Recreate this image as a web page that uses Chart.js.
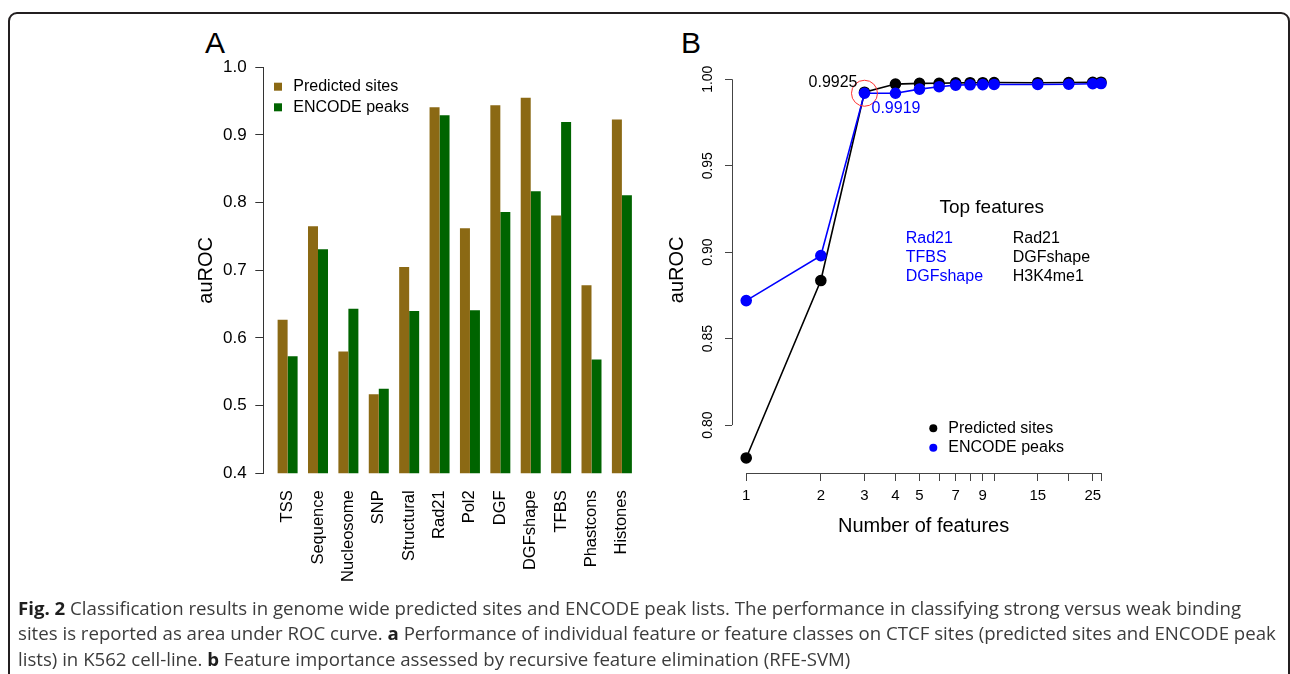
<!DOCTYPE html>
<html>
<head>
<meta charset="utf-8">
<script src="https://cdn.jsdelivr.net/npm/chart.js@4.4.1/dist/chart.umd.min.js"></script>
<style>
  html, body { margin: 0; padding: 0; background: #fff; }
  body { width: 1290px; height: 674px; position: relative; overflow: hidden;
         font-family: "Liberation Sans", Arial, sans-serif; }
  .frame { position: absolute; left: 8px; top: 12px; width: 1282px; height: 720px;
           border: 2px solid #231f20; border-radius: 9px; box-sizing: border-box; }
  .letter { position: absolute; font-size: 30px; line-height: 30px; color: #000; }
  #wrapA { position: absolute; left: 170px; top: 20px; width: 490px; height: 580px; }
  #wrapB { position: absolute; left: 660px; top: 20px; width: 470px; height: 560px; }
  .caption { position: absolute; left: 18px; top: 595px; font-family: "Open Sans", sans-serif;
             font-size: 18.65px; line-height: 25.3px; color: #3c3c3c; white-space: nowrap; }
  .caption b { color: #1e1e1e; }
</style>
</head>
<body>
<div class="frame"></div>
<div class="letter" style="left:205px; top:28px;">A</div>
<div class="letter" style="left:681px; top:28px;">B</div>
<div id="wrapA"><canvas id="chartA" width="490" height="580"></canvas></div>
<div id="wrapB"><canvas id="chartB" width="470" height="560"></canvas></div>
<div class="caption">
  <div><b>Fig. 2</b> Classification results in genome wide predicted sites and ENCODE peak lists. The performance in classifying strong versus weak binding</div>
  <div>sites is reported as area under ROC curve. <b>a</b> Performance of individual feature or feature classes on CTCF sites (predicted sites and ENCODE peak</div>
  <div>lists) in K562 cell-line. <b>b</b> Feature importance assessed by recursive feature elimination (RFE-SVM)</div>
</div>
<script>
// panel A: auROC per feature class
const categories = ['TSS', 'Sequence', 'Nucleosome', 'SNP', 'Structural', 'Rad21', 'Pol2', 'DGF', 'DGFshape', 'TFBS', 'Phastcons', 'Histones'];
const predictedA = [0.627, 0.765, 0.580, 0.517, 0.705, 0.941, 0.762, 0.944, 0.955, 0.781, 0.678, 0.923];
const encodeA    = [0.573, 0.731, 0.643, 0.525, 0.640, 0.929, 0.641, 0.786, 0.817, 0.919, 0.568, 0.811];
const yTicksA = [0.4, 0.5, 0.6, 0.7, 0.8, 0.9, 1.0];

// panel B: recursive feature elimination
const nFeatures  = [1, 2, 3, 4, 5, 6, 7, 8, 9, 10, 15, 20, 25, 27];
const predictedB = [0.781, 0.8836, 0.9925, 0.9972, 0.9976, 0.9977, 0.9979, 0.9980, 0.9980, 0.9981, 0.9980, 0.9981, 0.9982, 0.9983];
const encodeB    = [0.872, 0.898, 0.9919, 0.9919, 0.9943, 0.9957, 0.9966, 0.9968, 0.9969, 0.9970, 0.9970, 0.9971, 0.9974, 0.9975];
const xTicksB = [1, 2, 3, 4, 5, 6, 7, 8, 9, 10, 15, 20, 25, 27];
const xTickLabelsB = ['1', '2', '3', '4', '5', '', '7', '', '9', '', '15', '', '25', ''];
const yTicksB = [0.80, 0.85, 0.90, 0.95, 1.00];
const topFeaturesEncode = ['Rad21', 'TFBS', 'DGFshape'];
const topFeaturesPred = ['Rad21', 'DGFshape', 'H3K4me1'];
const highlightN = 3;

const FONT = '"Liberation Sans", Arial, sans-serif';
Chart.defaults.font.family = FONT;
Chart.defaults.color = '#000';

const BROWN = '#8B6914', GREEN = '#006400', BLUE = '#0000ff';

// legend drawn inside the plot, like R's legend("topleft")
const legendA = {
  id: 'legendA',
  afterDraw(chart) {
    const { ctx, chartArea } = chart;
    ctx.save();
    ctx.font = '16px ' + FONT;
    ctx.textBaseline = 'middle';
    chart.data.datasets.forEach((ds, i) => {
      const y = chartArea.top + 19.4 + i * 20.6;
      ctx.fillStyle = ds.backgroundColor;
      ctx.fillRect(chartArea.left + 10.7, y - 4, 8, 8);
      ctx.fillStyle = '#000';
      ctx.fillText(ds.label, chartArea.left + 30, y);
    });
    ctx.restore();
  }
};

new Chart(document.getElementById('chartA'), {
  type: 'bar',
  data: {
    datasets: [
      { label: 'Predicted sites', data: predictedA.map((v, i) => ({ x: i, y: v })), backgroundColor: BROWN },
      { label: 'ENCODE peaks', data: encodeA.map((v, i) => ({ x: i, y: v })), backgroundColor: GREEN }
    ]
  },
  options: {
    responsive: false, animation: false, devicePixelRatio: 1,
    categoryPercentage: 0.658, barPercentage: 1,
    layout: { padding: { left: 0, top: 47.3, right: 13.8, bottom: 6.7 } },
    plugins: { legend: { display: false }, tooltip: { enabled: false } },
    scales: {
      x: {
        type: 'linear', min: -0.8, max: 11.8, offset: false,
        grid: { display: false, drawTicks: false, offset: false }, border: { display: false },
        afterBuildTicks: s => { s.ticks = categories.map((c, i) => ({ value: i })); },
        afterFit: s => { s.height = 120; },
        ticks: { autoSkip: false, minRotation: 90, maxRotation: 90, padding: 17,
                 font: { size: 16.5 }, callback: v => categories[v] }
      },
      y: {
        min: 0.4, max: 1.0, beginAtZero: false,
        afterBuildTicks: s => { s.ticks = yTicksA.map(v => ({ value: v })); },
        afterFit: s => { s.width = 93.3; },
        grid: { drawOnChartArea: false, tickLength: 8, color: '#333' },
        border: { display: true, color: '#333' },
        ticks: { padding: 8.6, font: { size: 17 }, callback: v => v.toFixed(1) },
        title: { display: true, text: 'auROC', font: { size: 20 }, padding: { top: 24.7, bottom: 0 } }
      }
    }
  },
  plugins: [legendA]
});

// R-style axis lines (first to last tick), labels, legend and notes for panel B
const decorB = {
  id: 'decorB',
  afterDraw(chart) {
    const { ctx, chartArea } = chart;
    const { x, y } = chart.scales;
    ctx.save();
    ctx.strokeStyle = '#444';
    ctx.lineWidth = 1;
    ctx.beginPath();
    const by = Math.floor(chartArea.bottom) + 0.5;
    ctx.moveTo(x.getPixelForValue(xTicksB[0]), by);
    ctx.lineTo(x.getPixelForValue(xTicksB[xTicksB.length - 1]), by);
    const lx = Math.floor(chartArea.left) + 0.5;
    ctx.moveTo(lx, y.getPixelForValue(yTicksB[0]));
    ctx.lineTo(lx, y.getPixelForValue(yTicksB[yTicksB.length - 1]));
    ctx.stroke();

    // values at the highlighted point
    const k = nFeatures.indexOf(highlightN);
    const px = x.getPixelForValue(highlightN);
    ctx.font = '16px ' + FONT;
    ctx.textBaseline = 'middle';
    ctx.fillStyle = '#000';
    ctx.textAlign = 'right';
    ctx.fillText(predictedB[k].toFixed(4), px - 7, y.getPixelForValue(predictedB[k]) - 9.6);
    ctx.fillStyle = BLUE;
    ctx.textAlign = 'left';
    ctx.fillText(encodeB[k].toFixed(4), px + 7, y.getPixelForValue(encodeB[k]) + 15);

    // top features box
    ctx.textAlign = 'center';
    ctx.fillStyle = '#000';
    ctx.font = '19px ' + FONT;
    ctx.fillText('Top features', chartArea.left + 259.7, chartArea.top + 140.9);
    ctx.font = '16px ' + FONT;
    ctx.textAlign = 'left';
    topFeaturesEncode.forEach((t, i) => {
      ctx.fillStyle = BLUE;
      ctx.fillText(t, chartArea.left + 173.7, chartArea.top + 171.5 + i * 19.35);
    });
    topFeaturesPred.forEach((t, i) => {
      ctx.fillStyle = '#000';
      ctx.fillText(t, chartArea.left + 280.7, chartArea.top + 171.5 + i * 19.35);
    });

    // legend, bottom right
    chart.data.datasets.slice(0, 2).forEach((ds, i) => {
      const ly = chartArea.top + 361.5 + i * 19.4;
      ctx.fillStyle = ds.borderColor;
      ctx.beginPath();
      ctx.arc(chartArea.left + 201.3, ly, 4, 0, Math.PI * 2);
      ctx.fill();
      ctx.fillStyle = '#000';
      ctx.fillText(ds.label, chartArea.left + 216.3, ly);
    });
    ctx.restore();
  }
};

const k3 = nFeatures.indexOf(highlightN);
new Chart(document.getElementById('chartB'), {
  type: 'line',
  data: {
    datasets: [
      { label: 'Predicted sites', data: nFeatures.map((n, i) => ({ x: n, y: predictedB[i] })),
        borderColor: '#000', backgroundColor: '#000', borderWidth: 1.6, pointRadius: 5, order: 2 },
      { label: 'ENCODE peaks', data: nFeatures.map((n, i) => ({ x: n, y: encodeB[i] })),
        borderColor: BLUE, backgroundColor: BLUE, borderWidth: 1.6, pointRadius: 5, order: 1 },
      { label: 'highlight', data: [{ x: highlightN, y: encodeB[k3] }], showLine: false,
        pointRadius: 13, pointBorderWidth: 1, pointBorderColor: '#ff3030',
        pointBackgroundColor: 'rgba(0,0,0,0)', order: 0 }
    ]
  },
  options: {
    responsive: false, animation: false, devicePixelRatio: 1,
    layout: { padding: { left: 0, top: 46.8, right: 14.8, bottom: 37 } },
    plugins: { legend: { display: false }, tooltip: { enabled: false } },
    scales: {
      x: {
        type: 'logarithmic', min: 0.8763, max: 30.8,
        afterBuildTicks: s => { s.ticks = xTicksB.map(v => ({ value: v })); },
        afterFit: s => { s.height = 70; },
        grid: { drawOnChartArea: false, tickLength: 8, color: '#444' }, border: { display: false },
        ticks: { autoSkip: false, maxRotation: 0, padding: 6, font: { size: 15 },
                 callback: (v, i) => xTickLabelsB[i] },
        title: { display: true, text: 'Number of features', font: { size: 20 }, padding: { top: 0, bottom: 4.3 } }
      },
      y: {
        min: 0.7723, max: 1.0072,
        afterBuildTicks: s => { s.ticks = yTicksB.map(v => ({ value: v })); },
        afterFit: s => { s.width = 72; },
        grid: { drawOnChartArea: false, tickLength: 7, color: '#444' }, border: { display: false },
        ticks: { minRotation: 90, maxRotation: 90, crossAlign: 'center', padding: 3.4,
                 font: { size: 14 }, callback: v => v.toFixed(2) },
        title: { display: true, text: 'auROC', font: { size: 20 }, padding: { top: 5, bottom: 0 } }
      }
    }
  },
  plugins: [decorB]
});
</script>
</body>
</html>
